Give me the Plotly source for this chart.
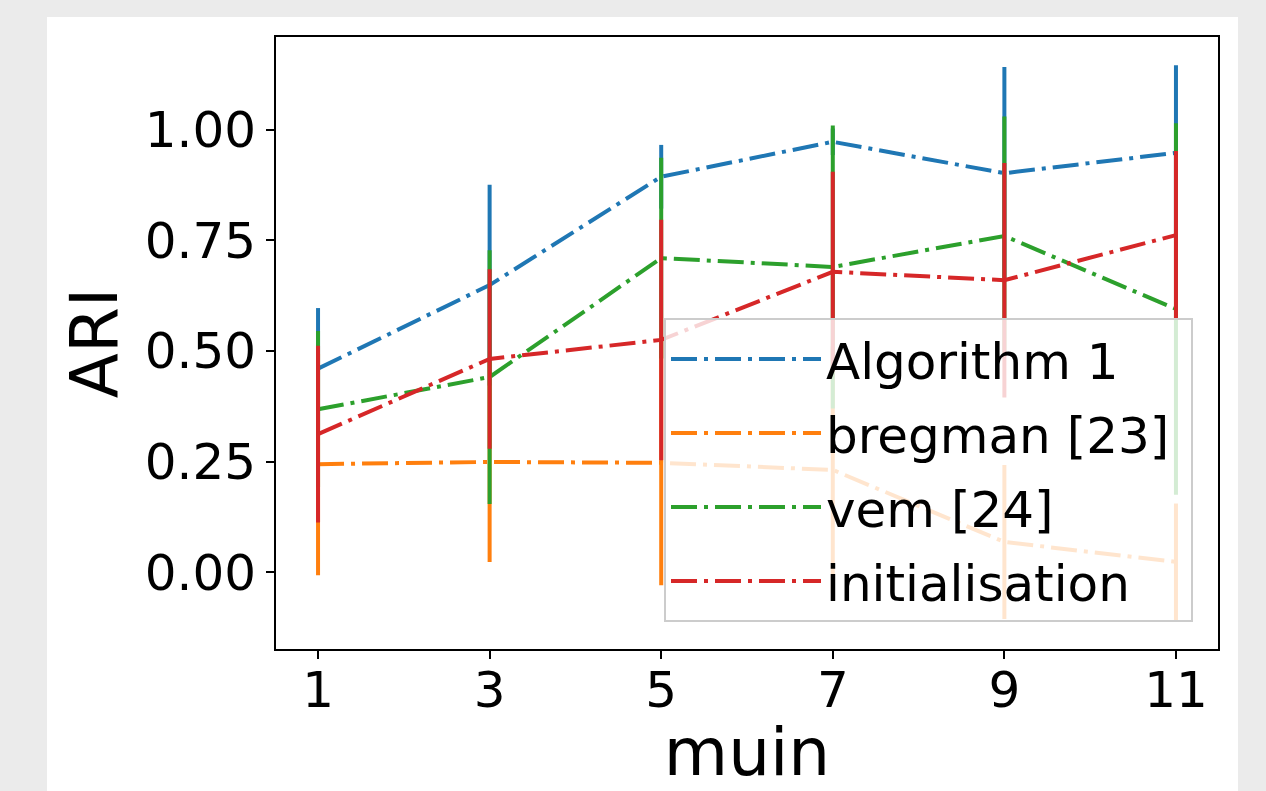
import plotly.graph_objects as go

x_vals = [1, 3, 5, 7, 9, 11]

series_names = ["Algorithm 1", "bregman [23]", "vem [24]", "initialisation"]
series_colors = ["#1f77b4", "#ff7f0e", "#2ca02c", "#d62728"]

alg1_mean = [0.460, 0.649, 0.894, 0.973, 0.902, 0.948]
alg1_err = [0.137, 0.227, 0.072, 0.030, 0.240, 0.198]

bregman_mean = [0.244, 0.249, 0.247, 0.231, 0.068, 0.023]
bregman_err = [0.251, 0.226, 0.277, 0.279, 0.174, 0.132]

vem_mean = [0.368, 0.441, 0.710, 0.690, 0.760, 0.595]
vem_err = [0.177, 0.287, 0.227, 0.320, 0.270, 0.420]

init_mean = [0.312, 0.482, 0.525, 0.679, 0.660, 0.762]
init_err = [0.200, 0.203, 0.272, 0.226, 0.265, 0.190]

y_ticks = [0.0, 0.25, 0.5, 0.75, 1.0]
y_tick_labels = ["0.00", "0.25", "0.50", "0.75", "1.00"]

means = [alg1_mean, bregman_mean, vem_mean, init_mean]
errs = [alg1_err, bregman_err, vem_err, init_err]

FONT = "DejaVu Sans"

fig = go.Figure()
for name, color, m, e in zip(series_names, series_colors, means, errs):
    fig.add_trace(go.Scatter(
        x=x_vals, y=m, name=name + "\u00a0", mode="lines", legendgroup=name,
        line=dict(color=color, width=4, dash="26px,7px,4px,7px"),
        error_y=dict(type="data", array=e, visible=True, color=color,
                     thickness=4, width=0),
    ))

W, H = 1266, 791
L, R, T, B = 276, 1218, 37, 649
pw, ph = R - L, B - T

def px_x(p):
    return (p - L) / pw

def px_y(p):
    return (B - p) / ph

fig.add_shape(type="rect", xref="paper", yref="paper",
              x0=px_x(47), x1=px_x(1238), y0=px_y(900), y1=px_y(17),
              fillcolor="white", line=dict(width=0), layer="below")

fig.update_layout(
    width=W, height=H,
    margin=dict(l=L, r=W - R, t=T, b=H - B, autoexpand=False),
    paper_bgcolor="#ebebeb",
    plot_bgcolor="white",
    font=dict(family=FONT, color="black", size=50),
    showlegend=True,
    legend=dict(
        x=px_x(1193), y=px_y(622), xanchor="right", yanchor="bottom",
        bgcolor="rgba(255,255,255,0.8)", bordercolor="#cccccc", borderwidth=2,
        font=dict(family=FONT, size=50, color="black"),
        itemwidth=150, tracegroupgap=6,
    ),
    xaxis=dict(
        range=[0.51, 11.49], tickvals=x_vals, ticktext=[str(v) for v in x_vals],
        showgrid=False, zeroline=False, showline=True, linecolor="black",
        linewidth=2, mirror=True, ticks="outside", ticklen=8, tickwidth=2,
        tickcolor="black", tickfont=dict(size=50, family=FONT),
        ticklabelstandoff=-12,
        automargin=True,
        title=dict(text="muin", font=dict(size=66, family=FONT), standoff=19),
    ),
    yaxis=dict(
        range=[-0.174, 1.210], tickvals=y_ticks, ticktext=y_tick_labels,
        showgrid=False, zeroline=False, showline=True, linecolor="black",
        linewidth=2, mirror=True, ticks="outside", ticklen=8, tickwidth=2,
        tickcolor="black", tickfont=dict(size=50, family=FONT),
        automargin=False,
        title=dict(text="ARI", font=dict(size=66, family=FONT), standoff=6),
    ),
)

fig.write_html(
    "out.html",
    config={"displayModeBar": False},
    post_script="document.body.style.margin='0';document.body.style.background='#ebebeb';",
)
